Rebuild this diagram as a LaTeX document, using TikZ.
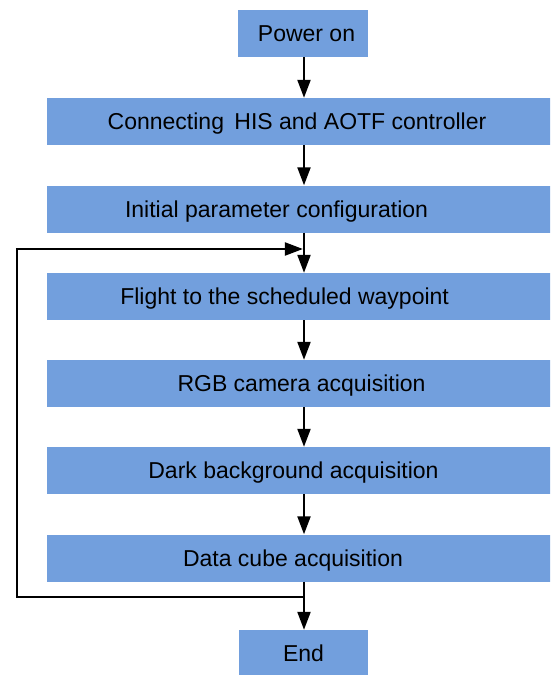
\documentclass[tikz,border=0pt]{standalone}
\usepackage{fontspec}
\setmainfont{Liberation Sans}
\usetikzlibrary{arrows.meta}
\definecolor{boxfill}{RGB}{114,159,221}
\begin{document}
\begin{tikzpicture}[x=1pt,y=-1pt,
  boxnode/.style={fill=boxfill,draw=none,inner sep=0,minimum height=47pt},
  wide/.style={boxnode,minimum width=514pt},
  small/.style={boxnode,minimum width=130pt},
  txt/.style={inner sep=0,text height=16.5pt,text depth=0pt,font=\fontsize{23}{27}\selectfont},
  conn/.style={line width=2.2pt,-{Triangle[width=13pt,length=18pt]}},
  plain/.style={line width=2.2pt}]
\clip (0,0) rectangle (550,675);
\fill[white] (0,0) rectangle (550,675);
% boxes
\node[small] (b1) at (303,33.5) {};
\node[wide] (b2) at (304,121.5) {};
\node[wide] (b3) at (304,209) {};
\node[wide] (b4) at (304,296.5) {};
\node[wide] (b5) at (304,383.5) {};
\node[wide] (b6) at (304,470.5) {};
\node[wide] (b7) at (304,558) {};
\node[small,minimum width=129pt] (b8) at (303.5,653.5) {};
% texts
\node[txt] (t1) at (306.5,33.5) {Power on};
\node[txt] (t2) at (297,121.5) {Connecting\hspace{4pt} HIS and AOTF controller};
\node[txt] (t3) at (276.5,209) {Initial parameter configuration};
\node[txt] (t4) at (284.6,296.5) {Flight to the scheduled waypoint};
\node[txt] (t5) at (301.5,383.5) {RGB camera acquisition};
\node[txt] (t6) at (293.5,470.5) {Dark background acquisition};
\node[txt] (t7) at (293,558) {Data cube acquisition};
\node[txt] (t8) at (303.5,653.5) {End};
% connectors
\coordinate (ja) at (304,249);
\coordinate (jb) at (304,597);
\coordinate (la) at (17,249);
\coordinate (lb) at (17,597);
\draw[conn] (b1.south -| ja) -- (b2.north -| ja);
\draw[conn] (b2.south -| ja) -- (b3.north -| ja);
\draw[conn] (b3.south -| ja) -- (b4.north -| ja);
\draw[conn] (b4.south -| ja) -- (b5.north -| ja);
\draw[conn] (b5.south -| ja) -- (b6.north -| ja);
\draw[conn] (b6.south -| ja) -- (b7.north -| ja);
\draw[conn] (b7.south -| ja) -- (b8.north -| ja);
\draw[plain] (jb) -- (lb) -- (la);
\draw[conn] ([xshift=-1.1pt]la) -- ([xshift=-1.1pt]ja);
\end{tikzpicture}
\end{document}
